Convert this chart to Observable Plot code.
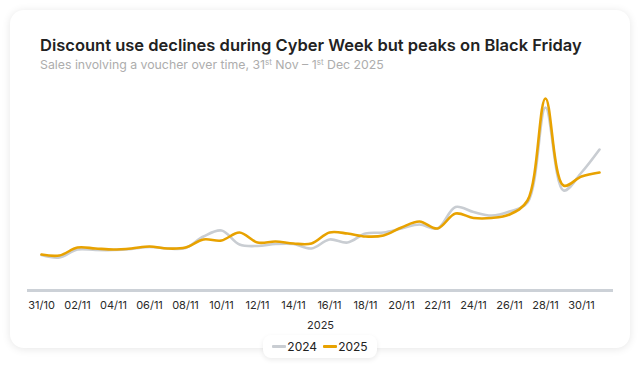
<!DOCTYPE html>
<html>
<head>
<meta charset="utf-8">
<script src="https://cdn.jsdelivr.net/npm/d3@7"></script>
<script src="https://cdn.jsdelivr.net/npm/@observablehq/plot@0.6"></script>
<style>
  html, body { margin: 0; padding: 0; background: #fff; width: 640px; height: 368px; overflow: hidden; font-family: Inter, "Noto Sans", sans-serif; }
  .card { position: absolute; left: 10px; top: 10px; width: 620px; height: 338px; background: #fff; border-radius: 14px; box-shadow: 0 1px 8px rgba(0,0,0,0.10); }
  .title { position: absolute; left: 40px; top: 35px; font-size: 16.5px; font-weight: 600; color: #222; white-space: nowrap; }
  .subtitle { position: absolute; left: 40px; top: 57px; font-size: 12.3px; color: #adadad; white-space: nowrap; }
  .subtitle sup { font-size: 8px; vertical-align: 4px; line-height: 0; }
  #chart { position: absolute; left: 0; top: 70px; }
  .legend { position: absolute; left: 263px; top: 335px; width: 114px; height: 23px; background: #fff; border-radius: 8px; box-shadow: 0 2px 5px rgba(0,0,0,0.08); display: flex; align-items: center; justify-content: center; font-size: 12px; color: #222; }
  .legend .sw { display: inline-block; width: 14px; height: 3px; border-radius: 1px; margin-right: 1px; }
  .legend .item { display: flex; align-items: center; margin: 0 3px; }
</style>
</head>
<body>
<div class="card"></div>
<div class="title">Discount use declines during Cyber Week but peaks on Black Friday</div>
<div class="subtitle">Sales involving a voucher over time, 31<sup>st</sup> Nov – 1<sup>st</sup> Dec 2025</div>
<div id="chart"></div>
<div class="legend" id="legend"></div>
<script>
// Days (x categories)
const days = ["31/10","01/11","02/11","03/11","04/11","05/11","06/11","07/11","08/11","09/11","10/11",
  "11/11","12/11","13/11","14/11","15/11","16/11","17/11","18/11","19/11","20/11",
  "21/11","22/11","23/11","24/11","25/11","26/11","27/11","28/11","29/11","30/11","01/12"];
// Share of sales involving a voucher (%)
const values2024 = [3.55,3.3,4.1,4.05,4.05,4.15,4.35,4.2,4.25,5.4,6.0,
  4.6,4.45,4.65,4.65,4.2,5.1,4.8,5.7,5.8,6.2,
  6.6,6.2,8.35,7.85,7.5,7.9,8.8,18.3,10.0,11.8,14.1];
const values2025 = [3.6,3.5,4.3,4.2,4.1,4.2,4.4,4.2,4.3,5.1,5.0,
  5.8,4.8,4.9,4.7,4.7,5.8,5.7,5.4,5.5,6.3,
  6.9,6.2,7.7,7.25,7.25,7.6,9.0,19.2,10.5,11.4,11.8];
const tickLabels = ["31/10","02/11","04/11","06/11","08/11","10/11","12/11","14/11","16/11",
  "18/11","20/11","22/11","24/11","26/11","28/11","30/11"];
const seriesNames = ["2024","2025"];
const seriesColors = ["#c9cdd2","#e8a200"];
const baseline = [0];

const rows2024 = days.map((d, i) => ({day: d, value: values2024[i]}));
const rows2025 = days.map((d, i) => ({day: d, value: values2025[i]}));

const chart = Plot.plot({
  width: 640,
  height: 270,
  marginLeft: 27,
  marginRight: 27,
  marginTop: 20,
  marginBottom: 50,
  style: {fontFamily: "Inter, 'Noto Sans', sans-serif", fontSize: "11px", color: "#2a2a2a", background: "transparent"},
  x: {type: "point", domain: days, padding: 0.5},
  y: {domain: [0, 20], axis: null},
  marks: [
    Plot.axisX({ticks: tickLabels, tickSize: 0, tickPadding: 11,
      label: "2025", labelAnchor: "center", labelArrow: false, labelOffset: 38, fontSize: 11}),
    Plot.ruleY(baseline, {stroke: "#ccd1d7", strokeWidth: 3}),
    Plot.lineY(rows2024, {x: "day", y: "value", stroke: seriesColors[0], strokeWidth: 2.6, curve: "catmull-rom"}),
    Plot.lineY(rows2025, {x: "day", y: "value", stroke: seriesColors[1], strokeWidth: 2.6, curve: "catmull-rom"})
  ]
});
document.getElementById("chart").appendChild(chart);

const legend = document.getElementById("legend");
seriesNames.forEach((name, i) => {
  const item = document.createElement("span");
  item.className = "item";
  const sw = document.createElement("span");
  sw.className = "sw";
  sw.style.background = seriesColors[i];
  item.appendChild(sw);
  item.appendChild(document.createTextNode(name));
  legend.appendChild(item);
});
</script>
</body>
</html>
